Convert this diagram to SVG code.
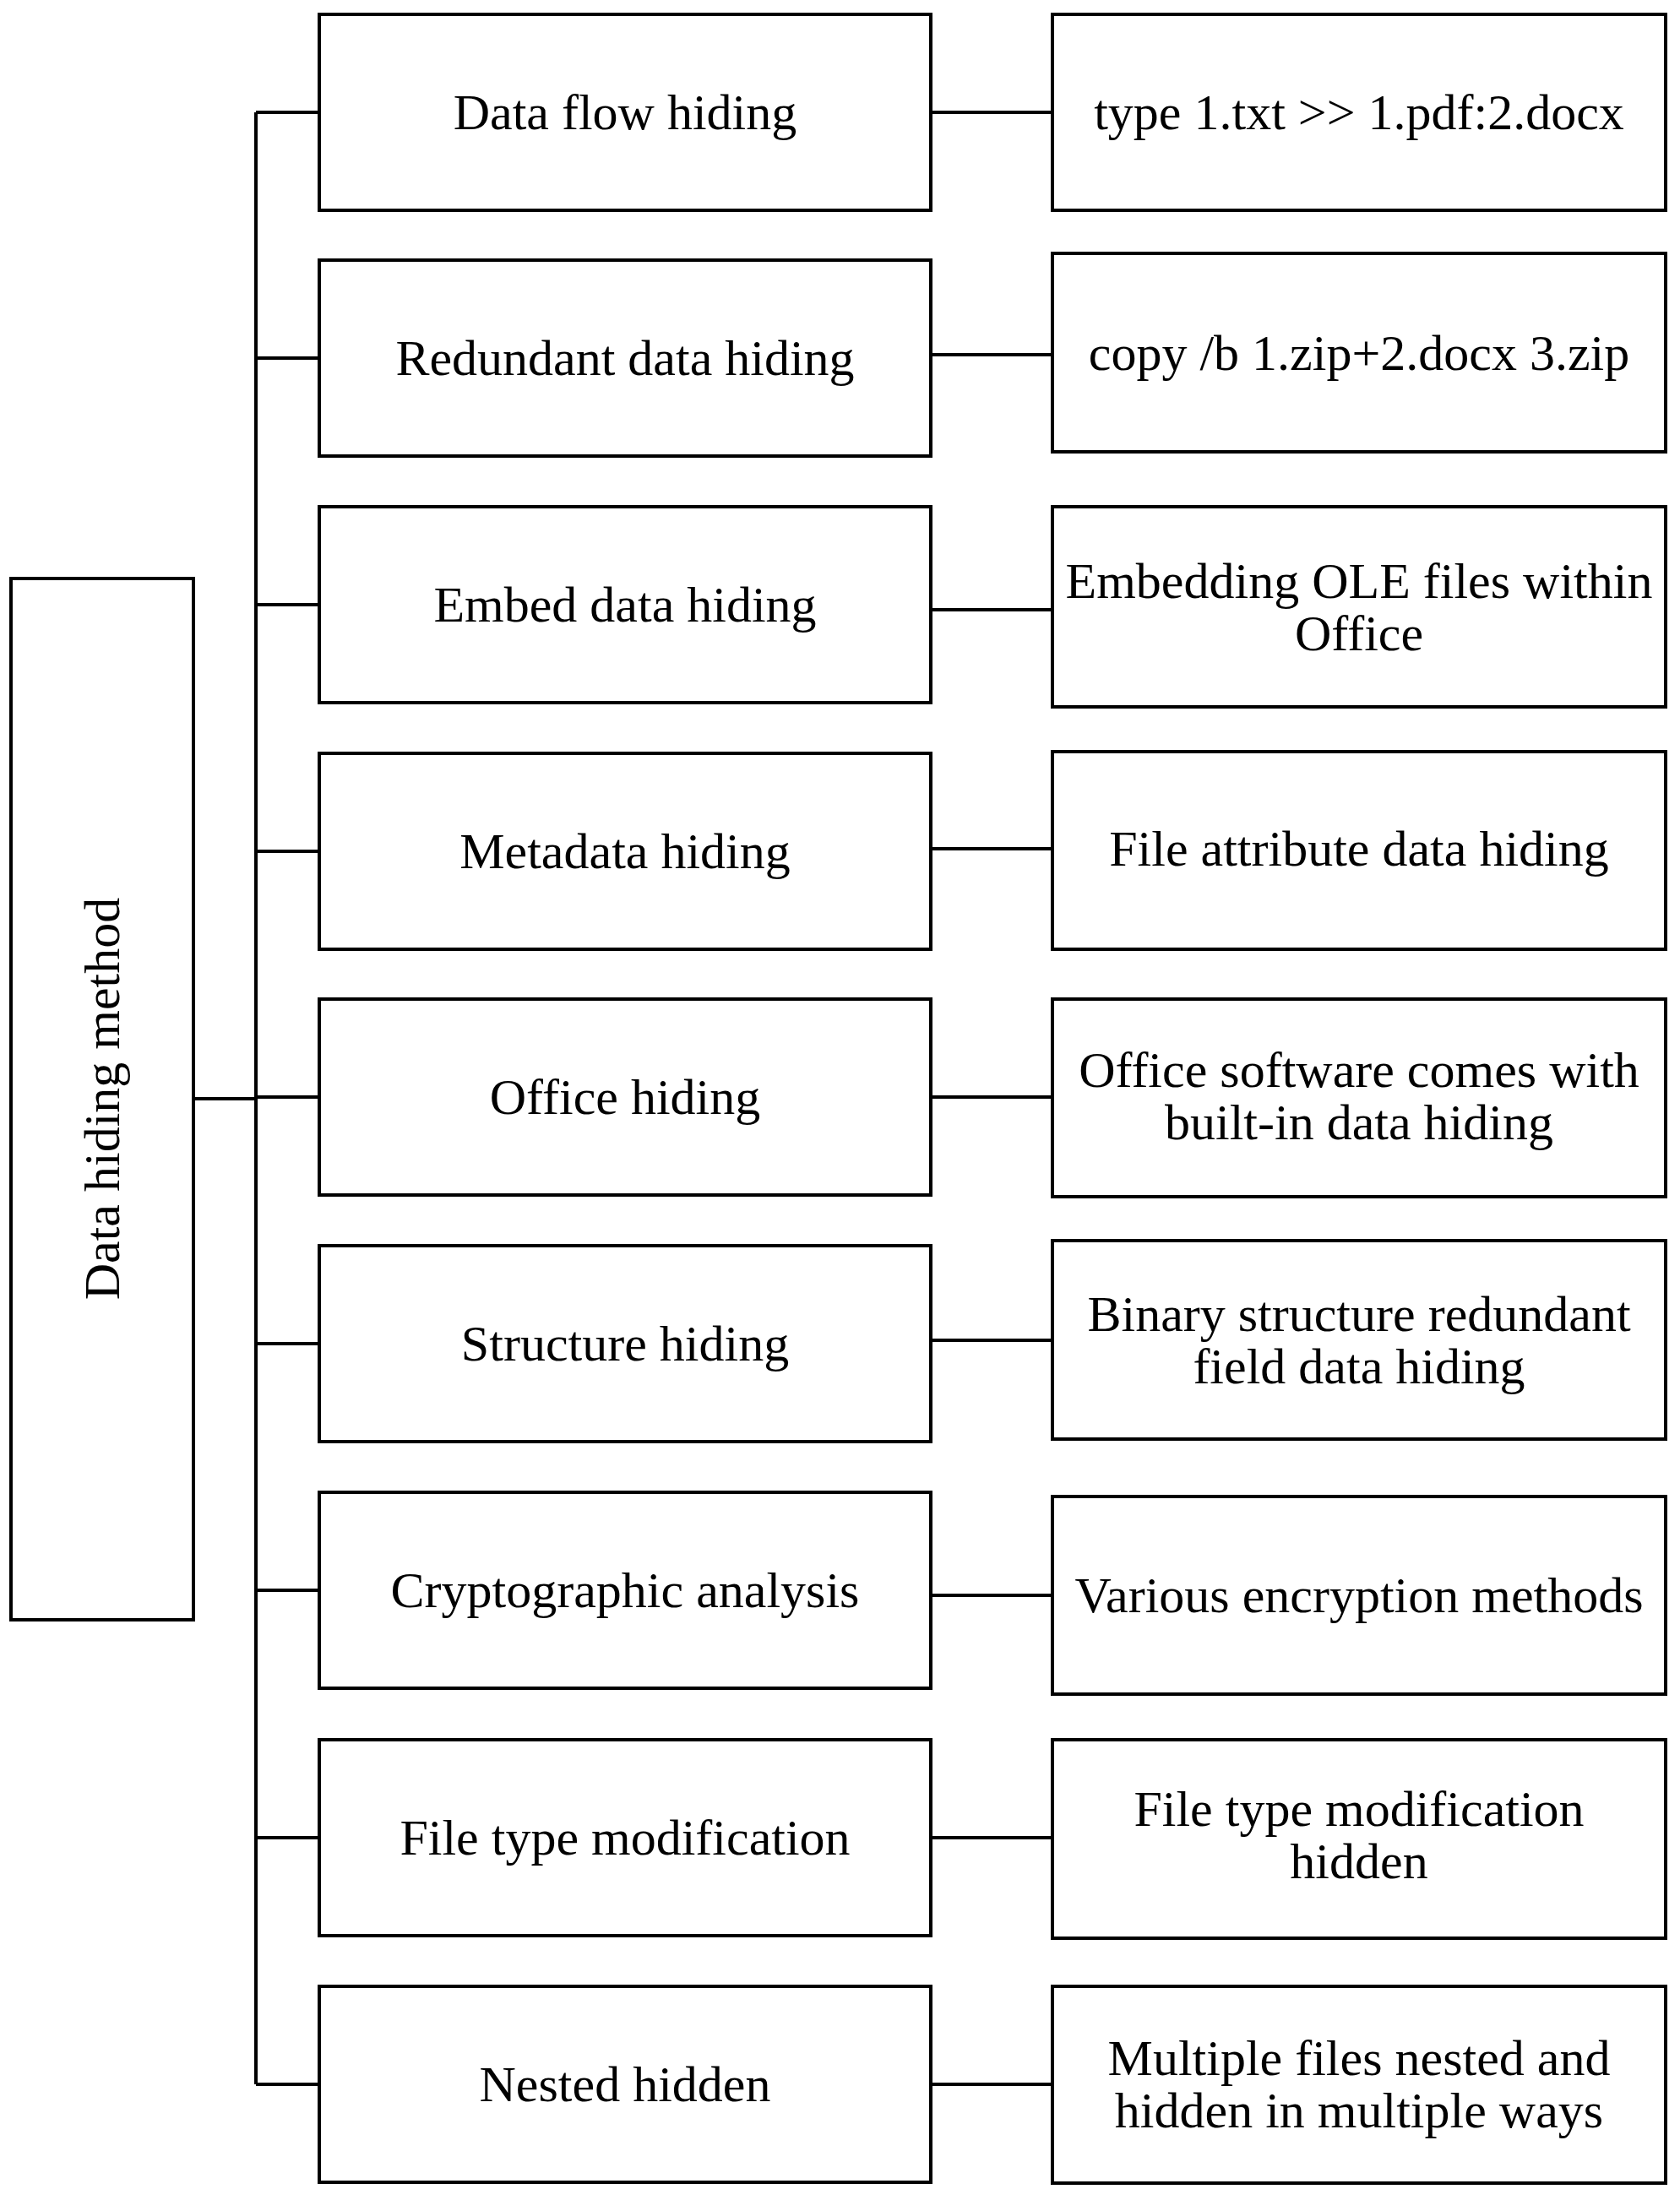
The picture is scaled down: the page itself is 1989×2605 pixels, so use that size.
<svg xmlns="http://www.w3.org/2000/svg" width="1989" height="2605" viewBox="0 0 1989 2605">
<style>
rect{fill:#fff;stroke:#000;stroke-width:4}
line{stroke:#000;stroke-width:4}
text{font-family:"Liberation Serif","DejaVu Serif",serif;font-size:60px;text-anchor:middle;dominant-baseline:central;fill:#000}
</style>
<rect width="1989" height="2605" style="stroke:none"/>
<g id="connectors">
<line x1="229" y1="1301" x2="303" y2="1301"/>
<line x1="303" y1="133" x2="303" y2="2468"/>
<line x1="303" y1="133" x2="378" y2="133"/><line x1="1102" y1="133" x2="1246" y2="133"/>
<line x1="303" y1="424" x2="378" y2="424"/><line x1="1102" y1="420" x2="1246" y2="420"/>
<line x1="303" y1="716" x2="378" y2="716"/><line x1="1102" y1="722" x2="1246" y2="722"/>
<line x1="303" y1="1008" x2="378" y2="1008"/><line x1="1102" y1="1005" x2="1246" y2="1005"/>
<line x1="303" y1="1299" x2="378" y2="1299"/><line x1="1102" y1="1299" x2="1246" y2="1299"/>
<line x1="303" y1="1591" x2="378" y2="1591"/><line x1="1102" y1="1587" x2="1246" y2="1587"/>
<line x1="303" y1="1883" x2="378" y2="1883"/><line x1="1102" y1="1889" x2="1246" y2="1889"/>
<line x1="303" y1="2176" x2="378" y2="2176"/><line x1="1102" y1="2176" x2="1246" y2="2176"/>
<line x1="303" y1="2468" x2="378" y2="2468"/><line x1="1102" y1="2468" x2="1246" y2="2468"/>
</g>
<g id="root"><rect x="13" y="685" width="216" height="1233"/><text transform="translate(121 1301) rotate(-90)">Data hiding method</text></g>
<g id="m1"><rect x="378" y="17" width="724" height="232"/><text x="740" y="133">Data flow hiding</text></g>
<g id="m2"><rect x="378" y="308" width="724" height="232"/><text x="740" y="424">Redundant data hiding</text></g>
<g id="m3"><rect x="378" y="600" width="724" height="232"/><text x="740" y="716">Embed data hiding</text></g>
<g id="m4"><rect x="378" y="892" width="724" height="232"/><text x="740" y="1008">Metadata hiding</text></g>
<g id="m5"><rect x="378" y="1183" width="724" height="232"/><text x="740" y="1299">Office hiding</text></g>
<g id="m6"><rect x="378" y="1475" width="724" height="232"/><text x="740" y="1591">Structure hiding</text></g>
<g id="m7"><rect x="378" y="1767" width="724" height="232"/><text x="740" y="1883">Cryptographic analysis</text></g>
<g id="m8"><rect x="378" y="2060" width="724" height="232"/><text x="740" y="2176">File type modification</text></g>
<g id="m9"><rect x="378" y="2352" width="724" height="232"/><text x="740" y="2468">Nested hidden</text></g>
<g id="r1"><rect x="1246" y="17" width="726" height="232"/><text x="1609" y="133">type 1.txt &gt;&gt; 1.pdf:2.docx</text></g>
<g id="r2"><rect x="1246" y="300" width="726" height="235"/><text x="1609" y="418">copy /b 1.zip+2.docx 3.zip</text></g>
<g id="r3"><rect x="1246" y="600" width="726" height="237"/><text x="1609" y="688">Embedding OLE files within</text><text x="1609" y="750">Office</text></g>
<g id="r4"><rect x="1246" y="890" width="726" height="234"/><text x="1609" y="1005">File attribute data hiding</text></g>
<g id="r5"><rect x="1246" y="1183" width="726" height="234"/><text x="1609" y="1267">Office software comes with</text><text x="1609" y="1329">built-in data hiding</text></g>
<g id="r6"><rect x="1246" y="1469" width="726" height="235"/><text x="1609" y="1556">Binary structure redundant</text><text x="1609" y="1618">field data hiding</text></g>
<g id="r7"><rect x="1246" y="1772" width="726" height="234"/><text x="1609" y="1889">Various encryption methods</text></g>
<g id="r8"><rect x="1246" y="2060" width="726" height="235"/><text x="1609" y="2142">File type modification</text><text x="1609" y="2204">hidden</text></g>
<g id="r9"><rect x="1246" y="2352" width="726" height="233"/><text x="1609" y="2437">Multiple files nested and</text><text x="1609" y="2499">hidden in multiple ways</text></g>
</svg>
